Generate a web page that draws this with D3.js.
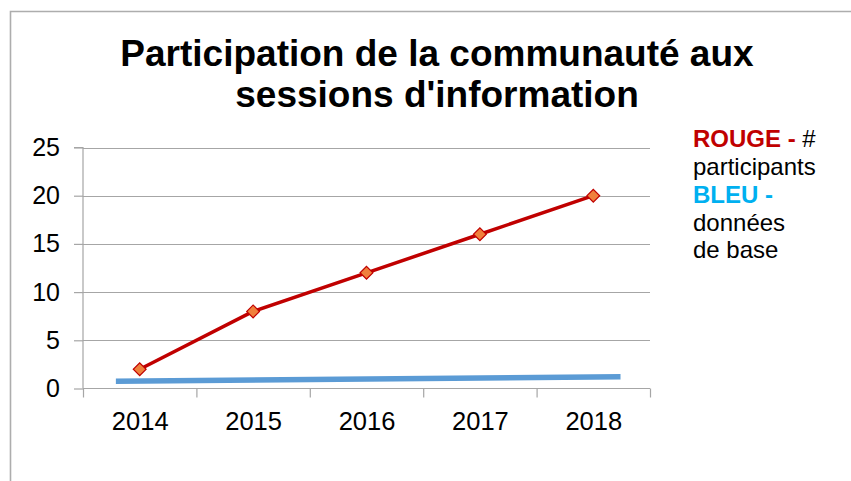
<!DOCTYPE html>
<html>
<head>
<meta charset="utf-8">
<script src="https://cdn.jsdelivr.net/npm/d3@7"></script>
<style>
  html, body { margin: 0; padding: 0; background: #fff; }
  svg { display: block; font-family: "Liberation Sans", Arial, sans-serif; }
</style>
</head>
<body>
<svg id="chart" width="851" height="481"></svg>
<script>
// ---- data ----
const categories = ["2014", "2015", "2016", "2017", "2018"];
const rougeValues = [2, 8, 12, 16, 20];           // # participants
const bleuIndex = [-0.21, 4.24];                   // baseline line span (category index units)
const bleuValues = [0.74, 1.22];                   // données de base
const yTicks = [0, 5, 10, 15, 20, 25];
const titleLines = ["Participation de la communauté aux", "sessions d'information"];

(function () {
const svg = d3.select("#chart");
const W = 851, H = 481;

// frame
svg.append("path")
  .attr("d", `M10.5,${H} L10.5,11.5 L${W},11.5`)
  .attr("fill", "none").attr("stroke", "#ADADAD").attr("stroke-width", 1.6);

const pLeft = 83, pRight = 650, pTop = 147.5, pBottom = 388.5;
const x = d3.scaleLinear().domain([-0.5, categories.length - 0.5]).range([pLeft, pRight]);
const y = d3.scaleLinear().domain([0, 25]).range([pBottom, pTop]);

// gridlines
svg.append("g").selectAll("line").data(yTicks.filter(d => d > 0)).join("line")
  .attr("x1", pLeft).attr("x2", pRight)
  .attr("y1", d => Math.round(y(d)) + 0.5).attr("y2", d => Math.round(y(d)) + 0.5)
  .attr("stroke", "#A6A6A6").attr("stroke-width", 1.2);

// y axis
const yAxis = svg.append("g").attr("transform", `translate(${pLeft},0)`)
  .call(d3.axisLeft(y).tickValues(yTicks).tickSize(9).tickPadding(14).tickFormat(d3.format("d")));
yAxis.selectAll("path,line").attr("stroke", "#A6A6A6").attr("stroke-width", 1.2);
yAxis.select(".domain").attr("d", `M-9,${pTop}H0V${pBottom}`);
yAxis.selectAll("text").attr("font-size", 25).attr("fill", "#000")
  .attr("font-family", "Liberation Sans, Arial, sans-serif");

// x axis (tick marks at category boundaries)
const xAxisTicks = svg.append("g").attr("transform", `translate(0,${pBottom})`)
  .call(d3.axisBottom(x).tickValues(d3.range(-0.5, categories.length, 1)).tickSize(9).tickFormat(""));
xAxisTicks.selectAll("path,line").attr("stroke", "#A6A6A6").attr("stroke-width", 1.2);
xAxisTicks.select(".domain").attr("d", `M${pLeft},0H${pRight}`);

const xAxisLabels = svg.append("g").attr("transform", `translate(0,${pBottom})`)
  .call(d3.axisBottom(x).tickValues(d3.range(categories.length)).tickSize(0).tickPadding(23)
    .tickFormat(i => categories[i]));
xAxisLabels.select(".domain").remove();
xAxisLabels.selectAll("text").attr("font-size", 25.5).attr("fill", "#000")
  .attr("font-family", "Liberation Sans, Arial, sans-serif");

// blue baseline line
svg.append("path")
  .datum(bleuIndex.map((xi, i) => [xi, bleuValues[i]]))
  .attr("d", d3.line().x(d => x(d[0])).y(d => y(d[1])))
  .attr("fill", "none").attr("stroke", "#5B9BD5").attr("stroke-width", 5.5);

// red line
const pts = rougeValues.map((v, i) => [i, v]);
svg.append("path").datum(pts)
  .attr("d", d3.line().x(d => x(d[0])).y(d => y(d[1])))
  .attr("fill", "none").attr("stroke", "#C00000").attr("stroke-width", 3.5)
  .attr("stroke-linejoin", "round");

const sym = d3.symbol().type(d3.symbolSquare).size(82);
svg.append("g").selectAll("path").data(pts).join("path")
  .attr("d", sym)
  .attr("transform", d => `translate(${x(d[0])},${y(d[1])}) rotate(45)`)
  .attr("fill", "#F0803C").attr("stroke", "#C00000").attr("stroke-width", 1.2);

// title
const title = svg.append("text").attr("text-anchor", "middle")
  .attr("font-size", 37).attr("font-weight", "bold").attr("fill", "#000");
title.selectAll("tspan").data(titleLines).join("tspan")
  .attr("x", 437).attr("y", (d, i) => i === 0 ? 66 : 107).text(d => d);

// legend text
const legX = 693;
const leg = svg.append("g").attr("font-size", 24);
const l1 = leg.append("text").attr("x", legX).attr("y", 147);
l1.append("tspan").attr("font-weight", "bold").attr("fill", "#C00000").text("ROUGE - ");
l1.append("tspan").attr("fill", "#000").text("#");
leg.append("text").attr("x", legX).attr("y", 175).attr("fill", "#000").text("participants");
leg.append("text").attr("x", legX).attr("y", 203).attr("font-weight", "bold").attr("fill", "#00B0F0").text("BLEU -");
leg.append("text").attr("x", legX).attr("y", 230.5).attr("fill", "#000").text("données");
leg.append("text").attr("x", legX).attr("y", 258).attr("fill", "#000").text("de base");
})();
</script>
</body>
</html>
